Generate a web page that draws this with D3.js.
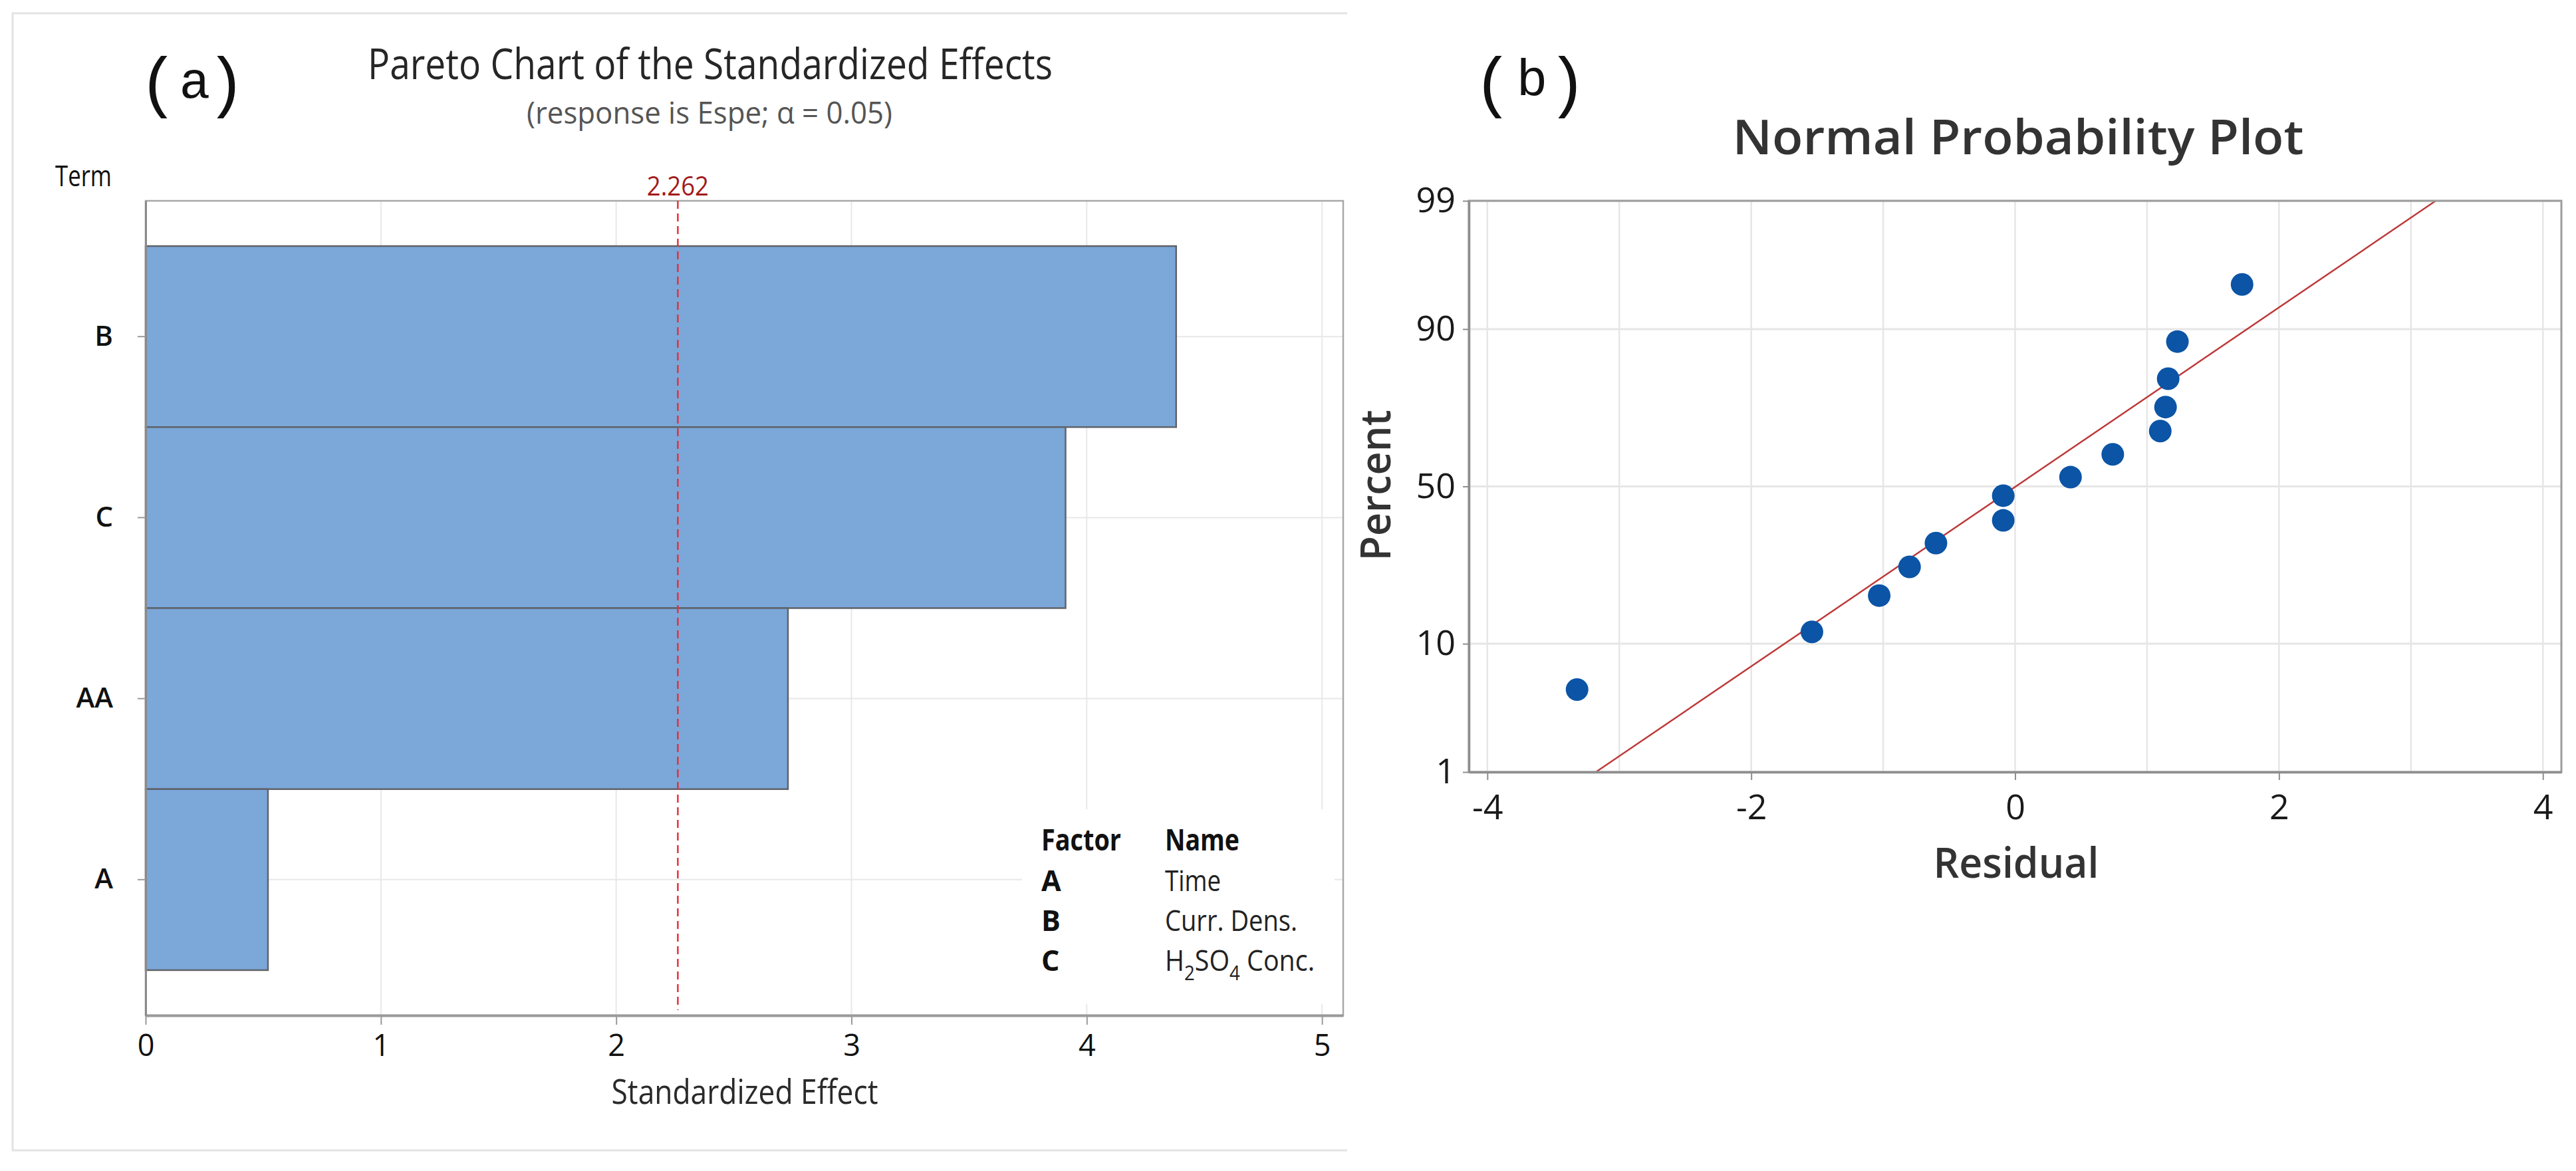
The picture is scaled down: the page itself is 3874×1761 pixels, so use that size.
<!DOCTYPE html>
<html>
<head>
<meta charset="utf-8">
<title>Pareto Chart and Normal Probability Plot</title>
<style>
	body{
		margin:0;
		background:#fff;
	}
	text{
		font-family:"Open Sans", sans-serif;
	}
	text.tag{
		font-family:"Liberation Mono", "Courier New", monospace;
	}
</style>
</head>
<body>
<script src="https://d3js.org/d3.v7.min.js"></script>
<script type="text/javascript">

// (a) pareto of standardized effects
var terms = ["B", "C", "AA", "A"],
	effects = [4.38, 3.91, 2.73, 0.52],
	critical = 2.262,
	effectTicks = [0, 1, 2, 3, 4, 5],
	factors = ["A", "B", "C"],
	factorNames = ["Time", "Curr. Dens.", "H_2SO_4 Conc."];

// (b) normal probability plot of residuals
var residuals = [-3.32, -1.54, -1.03, -0.80, -0.60, -0.09, -0.09, 0.42, 0.74, 1.10, 1.14, 1.16, 1.23, 1.72],
	percents = [4.9, 11.8, 18.7, 25.6, 32.2, 39.1, 47.0, 53.0, 60.3, 67.4, 74.1, 81.0, 88.1, 95.0],
	percentTicks = [1, 10, 50, 90, 99],
	residualTicks = [-4, -2, 0, 2, 4],
	residualGrid = [-4, -3, -2, -1, 0, 1, 2, 3, 4],
	fitMean = 0.005,
	fitSigma = 1.368;

var svg = d3.select('body').append('svg').attr('width', 3874).attr('height', 1761);

// inverse of the standard normal cdf (Acklam)
function qnorm(p){
	var a = [-3.969683028665376e+01, 2.209460984245205e+02, -2.759285104469687e+02, 1.383577518672690e+02, -3.066479806614716e+01, 2.506628277459239e+00],
		b = [-5.447609879822406e+01, 1.615858368580409e+02, -1.556989798598866e+02, 6.680131188771972e+01, -1.328068155288572e+01],
		c = [-7.784894002430293e-03, -3.223964580411365e-01, -2.400758277161838e+00, -2.549732539343734e+00, 4.374664141464968e+00, 2.938163982698783e+00],
		d = [7.784695709041462e-03, 3.224671290700398e-01, 2.445134137142996e+00, 3.754408661907416e+00],
		q, r;
	if(p < 0.02425){
		q = Math.sqrt(-2 * Math.log(p));
		return (((((c[0]*q+c[1])*q+c[2])*q+c[3])*q+c[4])*q+c[5]) / ((((d[0]*q+d[1])*q+d[2])*q+d[3])*q+1);
	}
	if(p > 1 - 0.02425){
		q = Math.sqrt(-2 * Math.log(1 - p));
		return -(((((c[0]*q+c[1])*q+c[2])*q+c[3])*q+c[4])*q+c[5]) / ((((d[0]*q+d[1])*q+d[2])*q+d[3])*q+1);
	}
	q = p - 0.5; r = q * q;
	return (((((a[0]*r+a[1])*r+a[2])*r+a[3])*r+a[4])*r+a[5])*q / (((((b[0]*r+b[1])*r+b[2])*r+b[3])*r+b[4])*r+1);
}

function txt(g, x, y, str, size, opts){
	opts = opts || {};
	var t = g.append('text')
		.attr('x', x).attr('y', y)
		.attr('font-size', size)
		.attr('fill', opts.fill || '#333')
		.attr('font-weight', opts.weight || 'normal')
		.attr('text-anchor', opts.anchor || 'start');
	if(opts.cls) t.attr('class', opts.cls);
	if(opts.rotate) t.attr('x', 0).attr('y', 0).attr('transform', 'translate(' + x + ',' + y + ') rotate(' + opts.rotate + ')');
	var shift = 0;
	str.split(/(_\d)/).filter(function(s){ return s.length; }).forEach(function(s){
		var sub = s[0] === '_',
			sp = t.append('tspan').text(sub ? s.slice(1) : s);
		if((sub ? 14 : 0) - shift) sp.attr('dy', (sub ? 14 : 0) - shift);
		if(sub) sp.attr('font-size', size * 0.7);
		shift = sub ? 14 : 0;
	});
	if(opts.len) t.attr('textLength', opts.len).attr('lengthAdjust', 'spacingAndGlyphs');
	return t;
}

/* ---------- panel (a) ---------- */
var pa = {left:219, right:2020, top:302, bottom:1527},
	ga = svg.append('g'),
	x = d3.scaleLinear().domain([0, 5.09]).range([pa.left, pa.right]),
	y = d3.scaleBand().domain(terms).range([pa.top, pa.bottom]).paddingInner(0).paddingOuter(0.25);

ga.append('path')
	.attr('d', 'M2026,20H19V1730H2026')
	.attr('fill', 'none').attr('stroke', '#e3e3e3').attr('stroke-width', 3);

ga.selectAll('line.vgrid').data(effectTicks.slice(1)).enter().append('line')
	.attr('x1', function(d){ return x(d); }).attr('x2', function(d){ return x(d); })
	.attr('y1', pa.top).attr('y2', pa.bottom)
	.attr('stroke', '#e8e8e8').attr('stroke-width', 2);

ga.selectAll('line.hgrid').data(terms).enter().append('line')
	.attr('x1', pa.left).attr('x2', pa.right)
	.attr('y1', function(d){ return y(d) + y.bandwidth() / 2; })
	.attr('y2', function(d){ return y(d) + y.bandwidth() / 2; })
	.attr('stroke', '#e8e8e8').attr('stroke-width', 2);

// legend box hides the grid behind it
ga.append('rect').attr('x', 1537).attr('y', 1217).attr('width', 470).attr('height', 293).attr('fill', '#fff');

ga.selectAll('rect.bar').data(effects).enter().append('rect')
	.attr('x', x(0))
	.attr('y', function(d, i){ return y(terms[i]); })
	.attr('width', function(d){ return x(d) - x(0); })
	.attr('height', y.bandwidth())
	.attr('fill', '#7ba7d9')
	.attr('stroke', '#5f6369').attr('stroke-width', 2.5);

ga.append('rect')
	.attr('x', pa.left).attr('y', pa.top)
	.attr('width', pa.right - pa.left).attr('height', pa.bottom - pa.top)
	.attr('fill', 'none').attr('stroke', '#a8a8a8').attr('stroke-width', 2.5);

var axA = ga.append('g').attr('transform', 'translate(0,' + pa.bottom + ')')
	.call(d3.axisBottom(x).tickValues(effectTicks).tickFormat(function(d){ return String(d); })
		.tickSize(14).tickPadding(15).tickSizeOuter(0));
var ayA = ga.append('g').attr('transform', 'translate(' + pa.left + ',0)')
	.call(d3.axisLeft(y).tickSize(12).tickPadding(37).tickSizeOuter(0));
axA.select('.domain').attr('stroke', '#9a9a9a').attr('stroke-width', 4);
ayA.select('.domain').attr('stroke', '#8a8a8a').attr('stroke-width', 3);
ga.selectAll('.tick line').attr('stroke', '#9a9a9a').attr('stroke-width', 2);
axA.selectAll('text').attr('font-size', 45).attr('fill', '#111');
ayA.selectAll('text').attr('font-size', 42).attr('fill', '#111').attr('font-weight', 600);

ga.append('line')
	.attr('x1', x(critical)).attr('x2', x(critical))
	.attr('y1', pa.top).attr('y2', pa.bottom - 8)
	.attr('stroke', '#e5323b').attr('stroke-width', 2.5).attr('stroke-dasharray', '12,7');
txt(ga, x(critical), 294, String(critical), 40, {fill:'#a11a1a', anchor:'middle', len:93});

txt(ga, 1068, 119, 'Pareto Chart of the Standardized Effects', 64, {anchor:'middle', fill:'#262626', weight:500, len:1030});
txt(ga, 1067, 186, '(response is Espe; \u03b1 = 0.05)', 45, {anchor:'middle', fill:'#555', len:550});
txt(ga, 83, 280, 'Term', 43, {fill:'#111', weight:500, len:85});
txt(ga, 1120, 1660, 'Standardized Effect', 52, {anchor:'middle', fill:'#2a2a2a', weight:500, len:401});

txt(ga, 1566, 1279, 'Factor', 45, {fill:'#111', weight:700, len:120});
txt(ga, 1752, 1279, 'Name', 45, {fill:'#111', weight:700, len:112});
factors.forEach(function(f, i){
	txt(ga, 1566, 1340 + i * 60, f, 43, {fill:'#111', weight:700});
	txt(ga, 1752, 1340 + i * 60, factorNames[i], 43, {fill:'#222', len:[84, 199, 225][i]});
});

txt(ga, 238, 157, '(', 100, {cls:'tag', fill:'#111', anchor:'middle'});
txt(ga, 293, 147, 'a', 78, {cls:'tag', fill:'#111', anchor:'middle'});
txt(ga, 340, 157, ')', 100, {cls:'tag', fill:'#111', anchor:'middle'});

/* ---------- panel (b) ---------- */
var pb = {left:2209, right:3852, top:302, bottom:1161},
	gb = svg.append('g'),
	xr = d3.scaleLinear().domain([-4.14, 4.14]).range([pb.left, pb.right]),
	yz = d3.scaleLinear().domain([qnorm(0.01), qnorm(0.99)]).range([pb.bottom, pb.top]);

gb.selectAll('line.vgrid').data(residualGrid).enter().append('line')
	.attr('x1', function(d){ return xr(d); }).attr('x2', function(d){ return xr(d); })
	.attr('y1', pb.top).attr('y2', pb.bottom)
	.attr('stroke', '#e6e6e6').attr('stroke-width', 2.5);

gb.selectAll('line.hgrid').data(percentTicks).enter().append('line')
	.attr('x1', pb.left).attr('x2', pb.right)
	.attr('y1', function(d){ return yz(qnorm(d / 100)); })
	.attr('y2', function(d){ return yz(qnorm(d / 100)); })
	.attr('stroke', '#e6e6e6').attr('stroke-width', 3);

var fit = d3.line()
	.x(function(p){ return xr(fitMean + fitSigma * qnorm(p / 100)); })
	.y(function(p){ return yz(qnorm(p / 100)); });

gb.append('path').datum([percentTicks[0], percentTicks[percentTicks.length - 1]])
	.attr('d', fit)
	.attr('fill', 'none').attr('stroke', '#bd3a3a').attr('stroke-width', 2.5);

gb.selectAll('circle').data(residuals).enter().append('circle')
	.attr('cx', function(d){ return xr(d); })
	.attr('cy', function(d, i){ return yz(qnorm(percents[i] / 100)); })
	.attr('r', 17)
	.attr('fill', '#0b54a6');

gb.append('rect')
	.attr('x', pb.left).attr('y', pb.top)
	.attr('width', pb.right - pb.left).attr('height', pb.bottom - pb.top)
	.attr('fill', 'none').attr('stroke', '#9c9c9c').attr('stroke-width', 3);

var axB = gb.append('g').attr('transform', 'translate(0,' + pb.bottom + ')')
	.call(d3.axisBottom(xr).tickValues(residualTicks).tickFormat(function(d){ return String(d); })
		.tickSize(12).tickPadding(22).tickSizeOuter(0));
var ayB = gb.append('g').attr('transform', 'translate(' + pb.left + ',0)')
	.call(d3.axisLeft(yz).tickValues(percentTicks.map(function(p){ return qnorm(p / 100); }))
		.tickFormat(function(d, i){ return percentTicks[i]; })
		.tickSize(9).tickPadding(11).tickSizeOuter(0));
gb.selectAll('.domain').attr('stroke', '#8e8e8e').attr('stroke-width', 3.5);
gb.selectAll('.tick line').attr('stroke', '#8e8e8e').attr('stroke-width', 2);
gb.selectAll('.tick text').attr('font-size', 52).attr('fill', '#1a1a1a').attr('font-weight', 500);

txt(gb, 3035, 232, 'Normal Probability Plot', 72, {anchor:'middle', weight:600, len:859});
txt(gb, 3032, 1320, 'Residual', 64, {anchor:'middle', weight:600, len:249});
txt(gb, 2091, 730, 'Percent', 64, {anchor:'middle', weight:600, len:227, rotate:-90});

txt(gb, 2245, 157, '(', 100, {cls:'tag', fill:'#111', anchor:'middle'});
txt(gb, 2304, 144, 'b', 78, {cls:'tag', fill:'#111', anchor:'middle'});
txt(gb, 2357, 157, ')', 100, {cls:'tag', fill:'#111', anchor:'middle'});

</script>
</body>
</html>
